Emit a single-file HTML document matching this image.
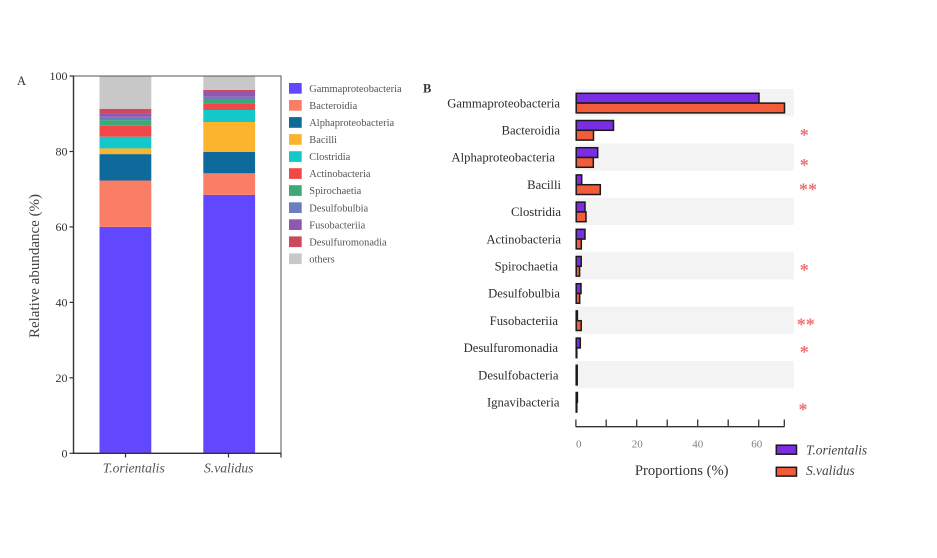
<!DOCTYPE html>
<html>
<head>
<meta charset="utf-8">
<style>
html,body{margin:0;padding:0;background:#fff;}
svg{display:block;}
text{font-family:"Liberation Serif",serif;}
</style>
</head>
<body>
<svg width="937" height="558" viewBox="0 0 937 558" xmlns="http://www.w3.org/2000/svg">
<rect width="937" height="558" fill="#fff"/>

<!-- ===== Panel A ===== -->
<text x="17" y="85" font-size="12.5" fill="#333">A</text>

<g>
<rect x="99.5" y="226.9" width="51.8" height="226.4" fill="#6148fe"/>
<rect x="99.5" y="180.5" width="51.8" height="46.4" fill="#fa7e66"/>
<rect x="99.5" y="154.1" width="51.8" height="26.4" fill="#0f6a9c"/>
<rect x="99.5" y="148.4" width="51.8" height="5.7" fill="#fbb42e"/>
<rect x="99.5" y="136.7" width="51.8" height="11.7" fill="#13c8c8"/>
<rect x="99.5" y="125.8" width="51.8" height="10.9" fill="#f04848"/>
<rect x="99.5" y="120.1" width="51.8" height="5.7" fill="#3fa878"/>
<rect x="99.5" y="116.8" width="51.8" height="3.3" fill="#6a7ec0"/>
<rect x="99.5" y="113.4" width="51.8" height="3.4" fill="#8e58b0"/>
<rect x="99.5" y="108.8" width="51.8" height="4.6" fill="#d0485e"/>
<rect x="99.5" y="76" width="51.8" height="32.8" fill="#c8c8c8"/>
</g>
<g>
<rect x="203.3" y="194.9" width="51.8" height="258.4" fill="#6148fe"/>
<rect x="203.3" y="173.3" width="51.8" height="21.6" fill="#fa7e66"/>
<rect x="203.3" y="151.8" width="51.8" height="21.5" fill="#0f6a9c"/>
<rect x="203.3" y="122.0" width="51.8" height="29.8" fill="#fbb42e"/>
<rect x="203.3" y="110.0" width="51.8" height="12.0" fill="#13c8c8"/>
<rect x="203.3" y="103.2" width="51.8" height="6.8" fill="#f04848"/>
<rect x="203.3" y="99.0" width="51.8" height="4.2" fill="#3fa878"/>
<rect x="203.3" y="96.8" width="51.8" height="2.2" fill="#6a7ec0"/>
<rect x="203.3" y="91.5" width="51.8" height="5.3" fill="#8e58b0"/>
<rect x="203.3" y="90.0" width="51.8" height="1.5" fill="#d0485e"/>
<rect x="203.3" y="76" width="51.8" height="14" fill="#c8c8c8"/>
</g>

<rect x="73.5" y="76" width="207.5" height="377.3" fill="none" stroke="#555" stroke-width="1"/>
<line x1="73.5" y1="75.5" x2="73.5" y2="453.8" stroke="#333" stroke-width="1.4"/>
<line x1="73" y1="453.3" x2="281.5" y2="453.3" stroke="#333" stroke-width="1.4"/>
<g stroke="#333" stroke-width="1.2">
<line x1="69.5" y1="76" x2="73.5" y2="76"/>
<line x1="69.5" y1="151.5" x2="73.5" y2="151.5"/>
<line x1="69.5" y1="226.9" x2="73.5" y2="226.9"/>
<line x1="69.5" y1="302.4" x2="73.5" y2="302.4"/>
<line x1="69.5" y1="377.8" x2="73.5" y2="377.8"/>
<line x1="69.5" y1="453.3" x2="73.5" y2="453.3"/>
<line x1="125.5" y1="453.3" x2="125.5" y2="457.5"/>
<line x1="228.5" y1="453.3" x2="228.5" y2="457.5"/>
<line x1="281" y1="453.3" x2="281" y2="457.5"/>
</g>
<g font-size="12" fill="#333" text-anchor="end">
<text x="67.5" y="80">100</text>
<text x="67.5" y="155.5">80</text>
<text x="67.5" y="231">60</text>
<text x="67.5" y="306.5">40</text>
<text x="67.5" y="382">20</text>
<text x="67.5" y="457.5">0</text>
</g>
<text transform="translate(39,266) rotate(-90)" text-anchor="middle" font-size="15" fill="#444">Relative abundance (%)</text>
<text x="102.7" y="472.5" font-size="13.6" font-style="italic" fill="#555">T.orientalis</text>
<text x="204" y="472.5" font-size="13.6" font-style="italic" fill="#555">S.validus</text>

<g>
<rect x="289" y="83" width="12.7" height="10.7" fill="#6148fe"/>
<rect x="289" y="100" width="12.7" height="10.7" fill="#fa7e66"/>
<rect x="289" y="117.1" width="12.7" height="10.7" fill="#0f6a9c"/>
<rect x="289" y="134.1" width="12.7" height="10.7" fill="#fbb42e"/>
<rect x="289" y="151.2" width="12.7" height="10.7" fill="#13c8c8"/>
<rect x="289" y="168.2" width="12.7" height="10.7" fill="#f04848"/>
<rect x="289" y="185.2" width="12.7" height="10.7" fill="#3fa878"/>
<rect x="289" y="202.3" width="12.7" height="10.7" fill="#6a7ec0"/>
<rect x="289" y="219.3" width="12.7" height="10.7" fill="#8e58b0"/>
<rect x="289" y="236.4" width="12.7" height="10.7" fill="#d0485e"/>
<rect x="289" y="253.4" width="12.7" height="10.7" fill="#c8c8c8"/>
</g>
<g font-size="10.4" fill="#555">
<text x="309.3" y="92">Gammaproteobacteria</text>
<text x="309.3" y="109">Bacteroidia</text>
<text x="309.3" y="126.1">Alphaproteobacteria</text>
<text x="309.3" y="143.1">Bacilli</text>
<text x="309.3" y="160.2">Clostridia</text>
<text x="309.3" y="177.2">Actinobacteria</text>
<text x="309.3" y="194.2">Spirochaetia</text>
<text x="309.3" y="211.3">Desulfobulbia</text>
<text x="309.3" y="228.3">Fusobacteriia</text>
<text x="309.3" y="245.4">Desulfuromonadia</text>
<text x="309.3" y="262.4">others</text>
</g>

<!-- ===== Panel B ===== -->
<text x="423" y="92.5" font-size="12.5" font-weight="bold" fill="#333">B</text>

<g fill="#f3f3f3">
<rect x="575.7" y="89" width="218" height="27.2"/>
<rect x="575.7" y="143.4" width="218" height="27.2"/>
<rect x="575.7" y="197.8" width="218" height="27.2"/>
<rect x="575.7" y="252.2" width="218" height="27.2"/>
<rect x="575.7" y="306.6" width="218" height="27.2"/>
<rect x="575.7" y="361" width="218" height="27.2"/>
</g>

<g font-size="12.7" fill="#2c2c2c" text-anchor="end">
<text x="560" y="107.3">Gammaproteobacteria</text>
<text x="560" y="134.5">Bacteroidia</text>
<text x="555" y="161.7">Alphaproteobacteria</text>
<text x="561" y="188.9">Bacilli</text>
<text x="561" y="216.1">Clostridia</text>
<text x="561" y="243.3">Actinobacteria</text>
<text x="558" y="270.5">Spirochaetia</text>
<text x="560" y="297.7">Desulfobulbia</text>
<text x="558" y="324.9">Fusobacteriia</text>
<text x="558" y="352.1">Desulfuromonadia</text>
<text x="558.5" y="379.3">Desulfobacteria</text>
<text x="559.5" y="406.5">Ignavibacteria</text>
</g>

<g stroke="#1a1a1a" stroke-width="1.5">
<rect x="576.2" y="93.3" width="182.8" height="9.8" fill="#7a2de3"/>
<rect x="576.2" y="103.1" width="208.3" height="9.8" fill="#f25c3b"/>
<rect x="576.2" y="120.5" width="37.3" height="9.8" fill="#7a2de3"/>
<rect x="576.2" y="130.3" width="17.3" height="9.8" fill="#f25c3b"/>
<rect x="576.2" y="147.7" width="21.5" height="9.8" fill="#7a2de3"/>
<rect x="576.2" y="157.5" width="17.1" height="9.8" fill="#f25c3b"/>
<rect x="576.2" y="174.9" width="5.5" height="9.8" fill="#7a2de3"/>
<rect x="576.2" y="184.7" width="24.1" height="9.8" fill="#f25c3b"/>
<rect x="576.2" y="202.1" width="8.8" height="9.8" fill="#7a2de3"/>
<rect x="576.2" y="211.9" width="9.8" height="9.8" fill="#f25c3b"/>
<rect x="576.2" y="229.3" width="8.8" height="9.8" fill="#7a2de3"/>
<rect x="576.2" y="239.1" width="5.1" height="9.8" fill="#f25c3b"/>
<rect x="576.2" y="256.5" width="5.0" height="9.8" fill="#7a2de3"/>
<rect x="576.2" y="266.3" width="3.4" height="9.8" fill="#f25c3b"/>
<rect x="576.2" y="283.7" width="4.8" height="9.8" fill="#7a2de3"/>
<rect x="576.2" y="293.5" width="3.5" height="9.8" fill="#f25c3b"/>
<rect x="576.2" y="310.9" width="1.2" height="9.8" fill="#7a2de3"/>
<rect x="576.2" y="320.7" width="5.0" height="9.8" fill="#f25c3b"/>
<rect x="576.2" y="338.1" width="4.1" height="9.8" fill="#7a2de3"/>
<rect x="576.2" y="347.9" width="0.6" height="9.8" fill="#f25c3b"/>
<rect x="576.2" y="365.3" width="1.0" height="9.8" fill="#7a2de3"/>
<rect x="576.2" y="375.1" width="1.0" height="9.8" fill="#f25c3b"/>
<rect x="576.2" y="392.5" width="1.2" height="9.8" fill="#7a2de3"/>
<rect x="576.2" y="402.3" width="0.6" height="9.8" fill="#f25c3b"/>
</g>

<g font-size="18" font-weight="bold" fill="#f07070" text-anchor="middle">
<text x="804.3" y="141">*</text>
<text x="804.3" y="171">*</text>
<text x="808" y="195.5">**</text>
<text x="804.3" y="276">*</text>
<text x="805.7" y="330.5">**</text>
<text x="804.3" y="358">*</text>
<text x="803" y="415.5">*</text>
</g>

<line x1="575.7" y1="426.7" x2="784.5" y2="426.7" stroke="#333" stroke-width="1.3"/>
<g stroke="#333" stroke-width="1.3">
<line x1="575.9" y1="419.5" x2="575.9" y2="426.7"/>
<line x1="606.2" y1="419.5" x2="606.2" y2="426.7"/>
<line x1="636.7" y1="419.5" x2="636.7" y2="426.7"/>
<line x1="667.2" y1="419.5" x2="667.2" y2="426.7"/>
<line x1="697.7" y1="419.5" x2="697.7" y2="426.7"/>
<line x1="728.2" y1="419.5" x2="728.2" y2="426.7"/>
<line x1="758.7" y1="419.5" x2="758.7" y2="426.7"/>
<line x1="784.3" y1="419.5" x2="784.3" y2="426.7"/>
</g>
<g font-size="11" fill="#808080" text-anchor="middle">
<text x="578.8" y="447.3">0</text>
<text x="637.3" y="447.3">20</text>
<text x="697.7" y="447.3">40</text>
<text x="756.7" y="447.3">60</text>
</g>
<text x="681.7" y="475" font-size="14.6" fill="#333" text-anchor="middle">Proportions (%)</text>

<rect x="776.3" y="445.2" width="20.2" height="9" fill="#7a2de3" stroke="#1a1a1a" stroke-width="1.5"/>
<rect x="776.3" y="467.3" width="20.2" height="8.8" fill="#f25c3b" stroke="#1a1a1a" stroke-width="1.5"/>
<text x="806" y="454.5" font-size="13.4" font-style="italic" fill="#444">T.orientalis</text>
<text x="806" y="475" font-size="13.4" font-style="italic" fill="#444">S.validus</text>
</svg>
</body>
</html>
